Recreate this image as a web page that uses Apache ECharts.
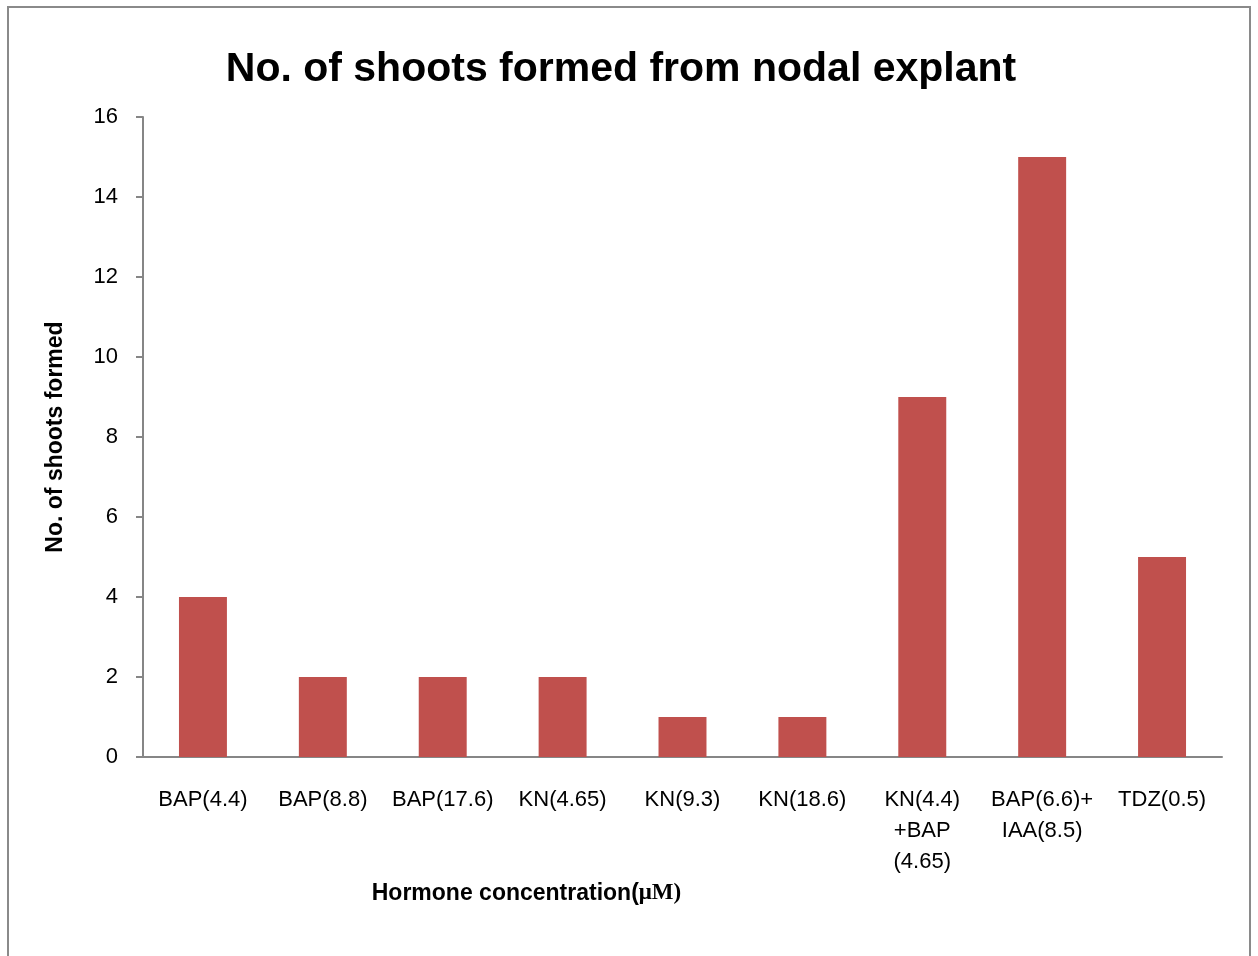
<!DOCTYPE html>
<html lang="en">
<head>
    <meta charset="UTF-8">
    <title>No. of shoots formed from nodal explant</title>
    <script type="text/javascript" src="https://cdn.jsdelivr.net/npm/echarts@6/dist/echarts.min.js"></script>
    <style>
        html, body { margin: 0; padding: 0; background: #fff; }
    </style>
</head>
<body>
<div id="main" style="width: 1258px;height:956px;"></div>

<script type="text/javascript">
    var categories = ['BAP(4.4)', 'BAP(8.8)', 'BAP(17.6)', 'KN(4.65)', 'KN(9.3)', 'KN(18.6)',
        'KN(4.4)\n+BAP\n(4.65)', 'BAP(6.6)+\nIAA(8.5)', 'TDZ(0.5)'];
    var shoots = [4, 2, 2, 2, 1, 1, 9, 15, 5];
    var yTicks = [0, 2, 4, 6, 8, 10, 12, 14, 16];

    var sans = '"Liberation Sans", Arial, sans-serif';

    var chartDom = document.getElementById('main');
    var myChart = echarts.init(chartDom);

    var option = {
        animation: false,
        backgroundColor: '#fff',
        title: {
            text: 'No. of shoots formed from nodal explant',
            left: 616,
            top: 44,
            textAlign: 'center',
            textStyle: {
                fontFamily: sans,
                fontWeight: 'bold',
                fontSize: 41,
                color: '#000'
            }
        },
        // border round the whole chart
        graphic: [{
            type: 'rect',
            shape: {x: 8, y: 7, width: 1242, height: 960},
            style: {fill: 'none', stroke: '#8a8a8a', lineWidth: 2},
            silent: true
        }],
        grid: {left: 143, right: 36, top: 117, bottom: 199},
        xAxis: {
            type: 'category',
            data: categories,
            axisLine: {lineStyle: {color: '#868686', width: 2}},
            axisTick: {length: 8, lineStyle: {color: '#868686', width: 2}},
            axisLabel: {
                interval: 0,
                margin: 27,
                fontFamily: sans,
                fontSize: 22,
                lineHeight: 31,
                color: '#000'
            },
            name: '{a|Hormone concentration(}{b|μM)}',
            nameLocation: 'middle',
            nameGap: 124,
            nameTextStyle: {
                padding: [0, 312, 0, 0],
                rich: {
                    a: {fontFamily: sans, fontWeight: 'bold', fontSize: 23, color: '#000'},
                    b: {fontFamily: '"Liberation Serif", serif', fontWeight: 'bold', fontSize: 23, color: '#000'}
                }
            }
        },
        yAxis: {
            type: 'value',
            min: yTicks[0],
            max: yTicks[yTicks.length - 1],
            interval: 2,
            splitLine: {show: false},
            axisLine: {show: true, lineStyle: {color: '#868686', width: 2}},
            axisTick: {show: true, length: 7, lineStyle: {color: '#868686', width: 2}},
            axisLabel: {
                margin: 25,
                fontFamily: sans,
                fontSize: 22,
                color: '#000'
            },
            name: 'No. of shoots formed',
            nameLocation: 'middle',
            nameGap: 76,
            nameTextStyle: {
                fontFamily: sans,
                fontWeight: 'bold',
                fontSize: 23,
                color: '#000'
            }
        },
        series: [{
            name: 'No. of shoots formed',
            type: 'bar',
            data: shoots,
            barWidth: '40%',
            itemStyle: {color: '#C0504D'}
        }]
    };

    option && myChart.setOption(option);
</script>
</body>
</html>
